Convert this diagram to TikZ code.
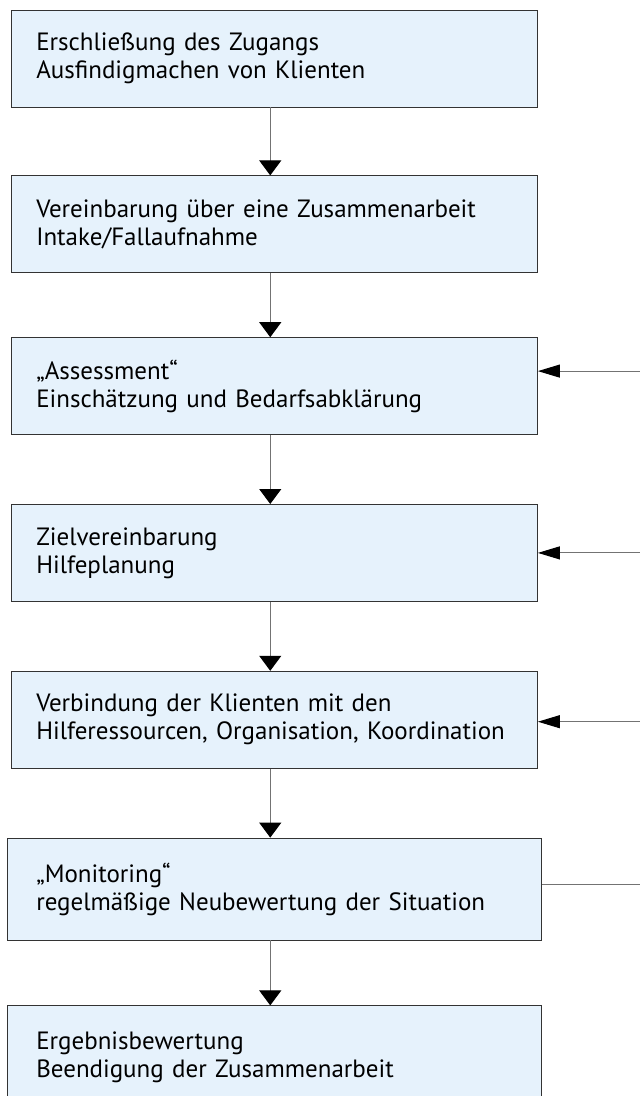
\documentclass[tikz,border=0pt]{standalone}
\usepackage{fontspec}
\setmainfont{PT Sans}
\usepackage{xcolor}
\usetikzlibrary{positioning}
\usetikzlibrary{arrows.meta}
\definecolor{stepfill}{RGB}{230,242,252}

\begin{document}
\begin{tikzpicture}[
  font=\fontsize{25pt}{28pt}\selectfont,
  box/.style={draw=black!80, line width=0.8pt, fill=stepfill, align=left, text width=476pt, minimum width=526.5pt, minimum height=97pt, inner sep=0pt},
  widebox/.style={box, minimum width=534pt, minimum height=102pt},
  arrow/.style={-{Triangle[width=22pt, length=15pt, color=black]}, draw=black!55, line width=1pt},
  fbarrow/.style={-{Triangle[width=13pt, length=22pt, color=black]}, draw=black!55, line width=1pt},
  fbline/.style={draw=black!55, line width=1pt}
]
\useasboundingbox (0,0) rectangle (640pt,-1096pt);
\clip (0,0) rectangle (640pt,-1096pt);

\node[box] (s1) at (274.25pt,-58.5pt) {Erschließung des Zugangs\\Ausfindigmachen von Klienten};
\node[box, below=68pt of s1] (s2) {Vereinbarung über eine Zusammenarbeit\\Intake/Fallaufnahme};
\node[box, below=64pt of s2] (s3) {„Assessment“\\Einschätzung und Bedarfsabklärung};
\node[box, below=69pt of s3] (s4) {Zielvereinbarung\\Hilfeplanung};
\node[box, below=69pt of s4] (s5) {Verbindung der Klienten mit den\\Hilferessourcen, Organisation, Koordination};
\node[widebox, below=69pt of s5] (s6) {„Monitoring“\\regelmäßige Neubewertung der Situation};
\node[widebox, below=65pt of s6] (s7) {Ergebnisbewertung\\Beendigung der Zusammenarbeit};

\foreach \a/\b in {s1/s2, s2/s3, s3/s4, s4/s5, s5/s6, s6/s7}
  \draw[arrow] ([xshift=-4pt]\a.south) -- ([xshift=-4pt]\b.north);

% feedback from the right
\coordinate (edge) at (640pt,0);
\draw[fbarrow] ([yshift=15pt]s3.east -| edge) -- ([yshift=15pt]s3.east);
\draw[fbarrow] (s4.east -| edge) -- (s4.east);
\draw[fbarrow] ([yshift=-2pt]s5.east -| edge) -- ([yshift=-2pt]s5.east);
\draw[fbline] ([yshift=5pt]s6.east) -- ([yshift=5pt]s6.east -| edge);

\end{tikzpicture}
\end{document}
